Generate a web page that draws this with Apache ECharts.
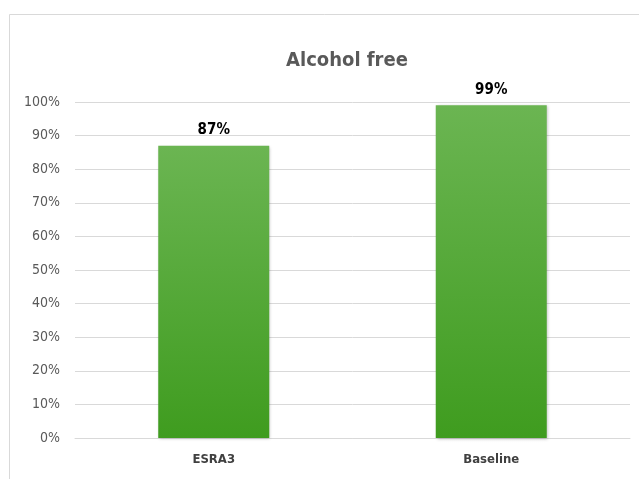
<!DOCTYPE html>
<html>
<head>
<meta charset="utf-8">
<script src="https://cdn.jsdelivr.net/npm/echarts@6/dist/echarts.min.js"></script>
<style>
  html, body { margin: 0; padding: 0; background: #fff; }
  #chart { width: 639px; height: 479px; }
</style>
</head>
<body>
<div id="chart"></div>
<script>
// Share of respondents reporting alcohol-free
const categories = ['ESRA3', 'Baseline'];
const values = [87, 99];
const yTicks = [0, 10, 20, 30, 40, 50, 60, 70, 80, 90, 100];

const FONT = '"DejaVu Sans Condensed", "Liberation Sans", sans-serif';

const chart = echarts.init(document.getElementById('chart'), null, { renderer: 'canvas' });
chart.setOption({
  animation: false,
  backgroundColor: '#ffffff',
  graphic: [{
    type: 'rect',
    shape: { x: 9.5, y: 14.5, width: 700, height: 600 },
    style: { fill: 'none', stroke: '#d9d9d9', lineWidth: 1 },
    z: -1
  }],
  title: {
    text: 'Alcohol free',
    left: 342, top: 46, textAlign: 'center',
    textStyle: { fontFamily: FONT, fontSize: 20, fontWeight: 'bold', color: '#595959' }
  },
  grid: { left: 75, right: 9, top: 102, bottom: 41, containLabel: false },
  xAxis: {
    type: 'category',
    data: categories,
    axisLine: { show: true, lineStyle: { color: '#d9d9d9', width: 1 } },
    axisTick: { show: false },
    axisLabel: { fontFamily: FONT, fontSize: 13, fontWeight: 'bold', color: '#404040', margin: 15 }
  },
  yAxis: {
    type: 'value',
    min: yTicks[0], max: yTicks[yTicks.length - 1], interval: 10,
    axisLine: { show: false },
    axisTick: { show: false },
    splitLine: { lineStyle: { color: '#d9d9d9', width: 1 } },
    axisLabel: { fontFamily: FONT, fontSize: 14, color: '#595959', margin: 15, formatter: v => v + '%' }
  },
  series: [{
    type: 'bar',
    data: values,
    barWidth: '40%',
    itemStyle: {
      color: new echarts.graphic.LinearGradient(0, 0, 0, 1, [
        { offset: 0, color: '#6bb552' },
        { offset: 1, color: '#3f9c1f' }
      ]),
      shadowColor: 'rgba(0,0,0,0.25)', shadowBlur: 3, shadowOffsetX: 1, shadowOffsetY: 1
    },
    label: {
      show: true, position: 'top', distance: 8,
      fontFamily: FONT, fontSize: 15, fontWeight: 'bold', color: '#000000',
      formatter: p => p.value + '%'
    }
  }]
});
</script>
</body>
</html>
